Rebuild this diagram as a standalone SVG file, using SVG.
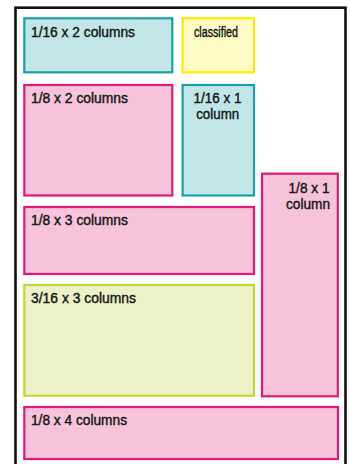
<svg xmlns="http://www.w3.org/2000/svg" width="350" height="464" viewBox="0 0 350 464">
<style>
.box{stroke-width:2.2}
.teal{fill:#c2e6e7;stroke:#17a0a6}
.pink{fill:#f6c3da;stroke:#e2187a}
.yellow{fill:#fffbc6;stroke:#ffeb00}
.green{fill:#edf1c8;stroke:#c5d52f}
text{font-family:"Liberation Sans",Arial,sans-serif;font-size:14px;fill:#161616;stroke:#161616;stroke-width:0.4}
.c{text-anchor:middle}
.r{text-anchor:end}
</style>
<rect x="0" y="0" width="350" height="464" fill="#ffffff"/>
<rect id="page" x="15.5" y="7.7" width="330" height="480" fill="none" stroke="#111" stroke-width="2.6"/>
<g id="n1"><rect class="box teal" x="24.3" y="18.3" width="148" height="54"/><text x="31" y="36.6" textLength="104" lengthAdjust="spacingAndGlyphs">1/16 x 2 columns</text></g>
<g id="n2"><rect class="box yellow" x="182.6" y="18.3" width="71.4" height="54"/><text class="c" x="216" y="36.6" textLength="44" lengthAdjust="spacingAndGlyphs">classified</text></g>
<g id="n3"><rect class="box pink" x="24.3" y="85" width="148" height="110.5"/><text x="31" y="102.8" textLength="97" lengthAdjust="spacingAndGlyphs">1/8 x 2 columns</text></g>
<g id="n4"><rect class="box teal" x="182.6" y="85" width="71.4" height="110.5"/><text class="c" x="217.5" y="103.3" textLength="48" lengthAdjust="spacingAndGlyphs">1/16 x 1</text><text class="c" x="217.7" y="119.3" textLength="43" lengthAdjust="spacingAndGlyphs">column</text></g>
<g id="n5"><rect class="box pink" x="262" y="173.7" width="75.8" height="222.6"/><text class="r" x="329.5" y="193" textLength="41" lengthAdjust="spacingAndGlyphs">1/8 x 1</text><text class="r" x="330" y="209.3" textLength="44" lengthAdjust="spacingAndGlyphs">column</text></g>
<g id="n6"><rect class="box pink" x="24.3" y="207" width="229.7" height="67"/><text x="31" y="225" textLength="97" lengthAdjust="spacingAndGlyphs">1/8 x 3 columns</text></g>
<g id="n7"><rect class="box green" x="24.3" y="285" width="229.7" height="110.7"/><text x="31" y="303.3" textLength="105" lengthAdjust="spacingAndGlyphs">3/16 x 3 columns</text></g>
<g id="n8"><rect class="box pink" x="24.3" y="407" width="313.7" height="52"/><text x="31" y="425" textLength="96" lengthAdjust="spacingAndGlyphs">1/8 x 4 columns</text></g>
<g id="connectors"></g>
</svg>
